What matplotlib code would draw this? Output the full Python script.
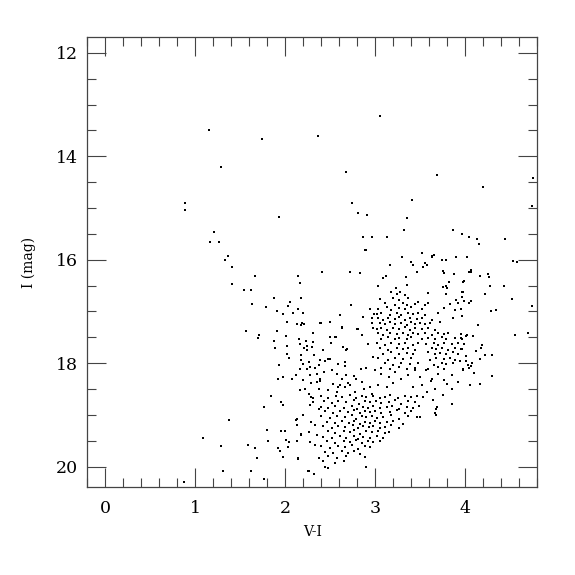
import numpy as np
import matplotlib
matplotlib.use("Agg")
import matplotlib.pyplot as plt
from matplotlib.ticker import MultipleLocator

# bright / sparse stars (V-I, I)
bright_vi = [1.15, 1.74, 2.36, 1.29, 2.68, 0.88, 0.88, 1.93, 3.05, 2.74, 2.81, 2.91,
             3.69, 4.20, 4.75, 4.74, 3.41, 3.35, 3.32, 3.87, 3.97, 2.90, 2.86, 2.96,
             3.13, 4.04, 4.13, 4.44, 4.16]
bright_i = [13.49, 13.66, 13.61, 14.21, 14.30, 14.90, 15.04, 15.17, 13.22, 14.90, 15.10, 15.13,
            14.36, 14.59, 14.42, 14.96, 14.85, 15.19, 15.43, 15.43, 15.50, 15.81, 15.56, 15.56,
            15.56, 15.56, 15.59, 15.60, 15.70]

# blue branch and stragglers on the left side
blue_vi = [1.21, 1.16, 1.26, 1.36, 1.33, 1.41, 1.66, 2.14, 2.41, 2.16, 1.41, 1.54,
           1.62, 2.17, 1.87, 2.05, 1.63, 2.03, 1.79, 2.14, 1.91, 1.97, 2.09, 2.20,
           2.61, 2.02, 2.13, 2.19, 2.21, 2.17, 2.40, 2.50, 2.63, 1.56, 1.91, 1.71,
           1.70, 2.01, 2.31, 2.15, 2.50, 2.55, 2.73, 2.39, 2.63, 2.80, 1.87, 2.15,
           2.23, 2.31, 2.56, 2.51, 2.64, 2.69, 2.02, 2.16, 2.24, 0.87, 1.08, 1.29,
           1.31, 1.38, 1.59, 2.12, 2.13, 2.20, 2.17, 2.13, 2.14, 2.72, 2.83]
blue_i = [15.47, 15.66, 15.66, 15.92, 16.00, 16.14, 16.32, 16.32, 16.24, 16.45, 16.47, 16.59,
          16.58, 16.74, 16.74, 16.82, 16.86, 16.90, 16.92, 16.95, 17.00, 17.05, 17.02, 17.02,
          17.06, 17.21, 17.24, 17.23, 17.24, 17.27, 17.22, 17.21, 17.30, 17.37, 17.38, 17.46,
          17.52, 17.47, 17.41, 17.54, 17.50, 17.50, 16.88, 17.23, 17.31, 17.34, 17.57, 17.54,
          17.57, 17.59, 17.50, 17.61, 17.68, 17.72, 17.67, 17.62, 17.67, 20.30, 19.45, 19.60,
          20.08, 19.09, 19.58, 19.09, 19.19, 19.01, 19.37, 19.51, 19.85, 16.24, 16.26]

# upper giant branch (above the clump)
rgb_vi = [2.89, 3.30, 3.52, 3.65, 3.63, 3.63, 3.74, 3.79, 3.90, 3.40, 3.42, 3.16,
          3.55, 3.58, 3.53, 2.83, 3.46, 3.75, 3.76, 3.88, 3.09, 3.12, 3.34, 3.03,
          3.35, 3.75, 3.79, 3.80, 3.82, 3.98, 3.23, 2.87, 2.97, 2.99, 2.81, 2.97,
          2.98, 2.92, 2.94, 2.85]
rgb_i = [15.81, 15.95, 15.86, 15.90, 15.92, 15.94, 16.01, 16.01, 15.95, 16.04, 16.10, 16.11,
         16.07, 16.10, 16.14, 16.26, 16.24, 16.22, 16.26, 16.27, 16.35, 16.32, 16.34, 16.51,
         16.48, 16.52, 16.50, 16.54, 16.43, 16.43, 16.55, 17.10, 17.12, 17.05, 17.34, 17.22,
         17.32, 17.62, 16.95, 17.45]

# red clump region
clump_vi = [3.18, 3.24, 3.28, 3.33, 3.59, 3.79, 3.98,
            3.05, 3.20, 3.26, 3.37, 3.90,
            3.11, 3.22, 3.31, 3.35, 3.44, 3.48, 3.55, 3.59, 3.83, 3.92,
            3.03, 3.13, 3.18, 3.26, 3.33, 3.40, 3.52, 3.76, 3.89,
            3.02, 3.07, 3.16, 3.24, 3.29, 3.37, 3.42, 3.48, 3.55, 3.70,
            3.03, 3.09, 3.14, 3.22, 3.27, 3.33, 3.39, 3.46, 3.52, 3.63, 3.87,
            3.05, 3.11, 3.16, 3.22, 3.29, 3.35, 3.40, 3.44, 3.50, 3.55, 3.61, 3.72,
            3.02, 3.07, 3.13, 3.20, 3.26, 3.33, 3.39, 3.44, 3.52, 3.59, 3.66,
            3.03, 3.09, 3.16, 3.24, 3.31, 3.37, 3.42, 3.48, 3.55, 3.63, 3.70, 3.76, 3.81,
            3.07, 3.14, 3.22, 3.27, 3.35, 3.40, 3.52, 3.59, 3.66, 3.74, 3.79, 3.89, 3.96,
            3.02, 3.11, 3.18, 3.26, 3.33, 3.42, 3.48, 3.57, 3.65, 3.70, 3.77, 3.85, 3.92,
            3.05, 3.14, 3.24, 3.31, 3.37, 3.44, 3.63, 3.68, 3.74, 3.81, 3.89, 3.96,
            3.09, 3.18, 3.27, 3.35, 3.42, 3.59, 3.66, 3.72, 3.79, 3.87, 3.92,
            3.03, 3.14, 3.22, 3.31, 3.40, 3.61, 3.68, 3.76, 3.83, 3.89,
            3.11, 3.20, 3.29, 3.39, 3.48, 3.65, 3.74, 3.79, 3.87,
            3.07, 3.16, 3.26, 3.35, 3.44, 3.59, 3.70, 3.77]
clump_i = [16.63, 16.66, 16.62, 16.68, 16.64, 16.67, 16.62,
           16.76, 16.73, 16.78, 16.74, 16.77,
           16.84, 16.87, 16.83, 16.88, 16.85, 16.82, 16.87, 16.84, 16.86, 16.83,
           16.95, 16.92, 16.97, 16.93, 16.96, 16.92, 16.95, 16.93, 16.97,
           17.05, 17.02, 17.06, 17.03, 17.07, 17.02, 17.05, 17.03, 17.06, 17.02,
           17.13, 17.16, 17.12, 17.15, 17.11, 17.16, 17.13, 17.15, 17.12, 17.16, 17.13,
           17.22, 17.25, 17.21, 17.24, 17.22, 17.26, 17.21, 17.24, 17.22, 17.25, 17.23, 17.21,
           17.34, 17.31, 17.35, 17.32, 17.34, 17.30, 17.35, 17.32, 17.34, 17.31, 17.35,
           17.42, 17.45, 17.41, 17.44, 17.42, 17.46, 17.41, 17.44, 17.42, 17.45, 17.41, 17.44, 17.42,
           17.53, 17.50, 17.54, 17.51, 17.53, 17.50, 17.54, 17.51, 17.53, 17.50, 17.54, 17.51, 17.53,
           17.61, 17.64, 17.60, 17.63, 17.61, 17.64, 17.60, 17.63, 17.61, 17.64, 17.60, 17.63, 17.61,
           17.71, 17.74, 17.70, 17.73, 17.71, 17.74, 17.70, 17.73, 17.71, 17.74, 17.70, 17.73,
           17.82, 17.79, 17.83, 17.80, 17.82, 17.79, 17.83, 17.80, 17.82, 17.79, 17.83,
           17.90, 17.93, 17.89, 17.92, 17.90, 17.93, 17.89, 17.92, 17.90, 17.93,
           18.00, 18.03, 17.99, 18.02, 18.00, 18.03, 17.99, 18.02, 18.00,
           18.09, 18.12, 18.08, 18.11, 18.09, 18.12, 18.08, 18.11]

# far red stars at right edge
red_vi = [4.02, 4.53, 4.58, 4.07, 4.04, 4.07, 4.25, 4.27, 4.17, 3.99, 4.28, 4.43,
          3.97, 4.22, 3.96, 3.99, 4.07, 4.04, 4.52, 4.74, 3.97, 3.95, 4.29, 4.34,
          4.14, 3.95, 4.02, 4.09, 4.01, 4.55, 4.70, 3.95, 3.99, 4.19, 4.18, 3.95,
          4.12, 4.22, 4.30, 4.01, 4.17, 3.94, 4.01, 4.08, 4.03, 4.06, 3.98, 4.04,
          4.10, 4.30, 4.05, 4.17]
red_i = [15.95, 16.03, 16.05, 16.19, 16.23, 16.23, 16.28, 16.34, 16.32, 16.42, 16.51, 16.51,
         16.63, 16.66, 16.72, 16.79, 16.80, 16.83, 16.75, 16.90, 17.08, 16.96, 16.99, 16.97,
         17.26, 17.43, 17.46, 17.48, 17.47, 17.46, 17.41, 17.51, 17.63, 17.65, 17.71, 17.73,
         17.76, 17.84, 17.84, 17.87, 17.92, 17.96, 17.95, 18.00, 18.04, 18.05, 18.12, 18.10,
         18.19, 18.25, 18.42, 18.41]

# between clump and turnoff, right part
mid_vi = [2.98, 2.90, 3.00, 2.85, 2.79, 3.07, 3.15, 3.22, 3.29, 3.37, 3.44, 3.50,
          3.57, 3.63, 3.70, 3.77, 3.85, 3.92, 3.98, 3.03, 3.13, 3.20, 3.42, 3.52,
          3.66, 3.85, 2.94, 2.96, 3.53, 3.64, 3.68, 3.68, 3.85, 3.50, 3.69, 3.67,
          3.58, 3.75, 3.80, 3.62]
mid_i = [17.88, 18.10, 18.14, 18.36, 18.30, 18.20, 18.26, 18.17, 18.30, 18.23, 18.14, 18.26,
         18.14, 18.30, 18.20, 18.33, 18.23, 18.36, 18.14, 18.43, 18.46, 18.39, 18.46, 18.43,
         18.49, 18.49, 18.46, 18.59, 18.65, 18.72, 18.88, 19.01, 18.78, 19.04, 18.85, 18.97,
         18.55, 18.62, 18.40, 18.35]

# densest part of the lower band
turnoff_vi = [2.40, 2.47, 2.56, 2.63, 2.72, 2.79, 2.85, 2.90, 2.98, 3.05, 3.11, 3.16, 3.25, 3.33, 3.40, 3.47,
              2.43, 2.52, 2.59, 2.68, 2.76, 2.82, 2.89, 2.94, 3.01, 3.07, 3.15, 3.22, 3.29, 3.37, 3.44,
              2.40, 2.48, 2.55, 2.65, 2.74, 2.80, 2.86, 2.92, 2.98, 3.05, 3.13, 3.19, 3.27, 3.35, 3.42, 3.49,
              2.44, 2.53, 2.61, 2.70, 2.77, 2.83, 2.89, 2.94, 3.00, 3.07, 3.16, 3.24, 3.33, 3.40,
              2.40, 2.50, 2.57, 2.66, 2.74, 2.79, 2.85, 2.90, 2.96, 3.02, 3.09, 3.18, 3.27, 3.37, 3.46,
              2.46, 2.55, 2.63, 2.71, 2.77, 2.83, 2.89, 2.94, 3.00, 3.05, 3.13, 3.20, 3.31,
              2.42, 2.52, 2.59, 2.67, 2.75, 2.81, 2.87, 2.93, 2.98, 3.05, 3.11, 3.18, 3.26,
              2.48, 2.55, 2.65, 2.72, 2.77, 2.83, 2.90, 2.96, 3.03, 3.11, 3.15,
              2.42, 2.52, 2.61, 2.68, 2.76, 2.81, 2.87, 2.94, 3.02, 3.09,
              2.46, 2.55, 2.65, 2.72, 2.79, 2.85, 2.92, 2.98, 3.05,
              2.40, 2.50, 2.59, 2.66, 2.74, 2.81, 2.89, 2.94,
              2.44, 2.53, 2.63, 2.70, 2.76, 2.83,
              2.48, 2.57, 2.68, 2.89,
              2.42, 2.55, 2.65,
              2.44, 2.48, 2.90]
turnoff_i = [18.64, 18.67, 18.63, 18.66, 18.62, 18.68, 18.64, 18.66, 18.63, 18.67, 18.65, 18.62, 18.68, 18.64, 18.66, 18.63,
             18.74, 18.77, 18.73, 18.76, 18.72, 18.78, 18.74, 18.76, 18.73, 18.77, 18.75, 18.72, 18.78, 18.74, 18.76,
             18.84, 18.87, 18.83, 18.86, 18.82, 18.88, 18.84, 18.86, 18.83, 18.87, 18.85, 18.82, 18.88, 18.84, 18.86, 18.83,
             18.93, 18.96, 18.92, 18.95, 18.91, 18.97, 18.93, 18.95, 18.92, 18.96, 18.94, 18.91, 18.97, 18.93,
             19.03, 19.06, 19.02, 19.05, 19.01, 19.07, 19.03, 19.05, 19.02, 19.06, 19.04, 19.01, 19.07, 19.03, 19.05,
             19.13, 19.16, 19.12, 19.15, 19.11, 19.17, 19.13, 19.15, 19.12, 19.16, 19.14, 19.11, 19.17,
             19.22, 19.25, 19.21, 19.24, 19.20, 19.26, 19.22, 19.24, 19.21, 19.25, 19.23, 19.20, 19.26,
             19.32, 19.35, 19.31, 19.34, 19.30, 19.36, 19.32, 19.34, 19.31, 19.35, 19.33,
             19.42, 19.45, 19.41, 19.44, 19.40, 19.46, 19.42, 19.44, 19.41, 19.45,
             19.51, 19.54, 19.50, 19.53, 19.49, 19.55, 19.51, 19.53, 19.50,
             19.61, 19.64, 19.60, 19.63, 19.59, 19.65, 19.61, 19.63,
             19.71, 19.74, 19.70, 19.73, 19.69, 19.75,
             19.80, 19.83, 19.79, 19.82,
             19.90, 19.93, 19.89,
             20.00, 20.03, 20.01]

# lower band, left part
lower_vi = [1.89, 2.02, 2.21, 2.24, 2.30, 2.32, 2.42, 2.64, 2.68, 2.02, 2.04, 2.18,
            2.17, 2.20, 2.26, 2.28, 2.24, 2.33, 2.37, 2.39, 2.44, 2.48, 2.50, 2.59,
            2.66, 2.66, 1.93, 2.16, 2.27, 2.35, 2.39, 2.43, 2.52, 2.57, 2.63, 2.68,
            2.72, 2.66, 1.97, 1.92, 2.12, 2.07, 2.20, 2.29, 2.35, 2.39, 2.53, 2.59,
            2.61, 2.16, 2.22, 2.26, 2.29, 2.31, 2.38, 1.84, 1.95, 1.97, 1.76, 2.27,
            2.31, 2.37, 2.20, 2.13, 2.13, 2.29, 2.33, 1.80, 1.95, 2.00, 2.18, 2.26,
            2.35, 1.81, 2.01, 2.04, 2.13, 2.27, 2.33, 1.66, 1.92, 1.94, 2.03, 1.69,
            1.98, 2.14, 2.37, 2.26, 2.32, 1.62, 1.76, 2.25, 2.84, 2.76, 2.70, 2.78,
            2.88, 2.58, 2.47]
lower_i = [17.70, 17.67, 17.70, 17.75, 17.68, 17.84, 17.74, 17.68, 17.74, 17.83, 17.90, 17.84,
           17.94, 18.01, 17.97, 18.07, 18.12, 18.10, 18.04, 17.94, 17.96, 17.91, 17.92, 18.01,
           17.97, 18.06, 18.03, 18.12, 18.23, 18.20, 18.30, 18.17, 18.14, 18.20, 18.30, 18.22,
           18.43, 18.46, 18.26, 18.31, 18.22, 18.30, 18.33, 18.39, 18.37, 18.35, 18.41, 18.46,
           18.43, 18.52, 18.49, 18.59, 18.65, 18.68, 18.49, 18.64, 18.76, 18.81, 18.85, 18.81,
           18.75, 18.88, 19.01, 19.08, 19.20, 19.14, 19.20, 19.30, 19.31, 19.32, 19.38, 19.34,
           19.39, 19.50, 19.49, 19.52, 19.51, 19.53, 19.59, 19.64, 19.64, 19.70, 19.62, 19.84,
           19.81, 19.84, 19.84, 20.09, 20.14, 20.09, 20.24, 20.08, 18.12, 18.25, 18.38, 18.55,
           18.50, 18.55, 18.52]

vi = np.concatenate([bright_vi, blue_vi, rgb_vi, clump_vi, red_vi, mid_vi, turnoff_vi, lower_vi])
imag = np.concatenate([bright_i, blue_i, rgb_i, clump_i, red_i, mid_i, turnoff_i, lower_i])

plt.rcParams['font.family'] = 'DejaVu Serif'

fig = plt.figure(figsize=(5.75, 5.75), dpi=100)
ax = fig.add_axes([0.152, 0.1525, 0.782, 0.7825])

ax.plot(vi, imag, 's', color='black', markersize=1.6, markeredgewidth=0)

ax.set_xlim(-0.2, 4.8)
ax.set_ylim(20.4, 11.7)

ax.xaxis.set_major_locator(MultipleLocator(1))
ax.xaxis.set_minor_locator(MultipleLocator(0.2))
ax.yaxis.set_major_locator(MultipleLocator(2))
ax.yaxis.set_minor_locator(MultipleLocator(0.5))
ax.tick_params(which='both', direction='in', top=True, right=True, width=0.8,
               color='#444444', labelsize=12.5)
ax.tick_params(which='major', length=13.5, pad=9)
ax.tick_params(which='minor', length=6.8)
ax.tick_params(axis='y', which='major', pad=7)
for s in ax.spines.values():
    s.set_linewidth(0.9)
    s.set_color('#444444')

ax.set_xlabel('V-I', fontsize=10, labelpad=6)
ax.set_ylabel('I (mag)', fontsize=10, labelpad=14)

fig.savefig('out.png', dpi=100)
